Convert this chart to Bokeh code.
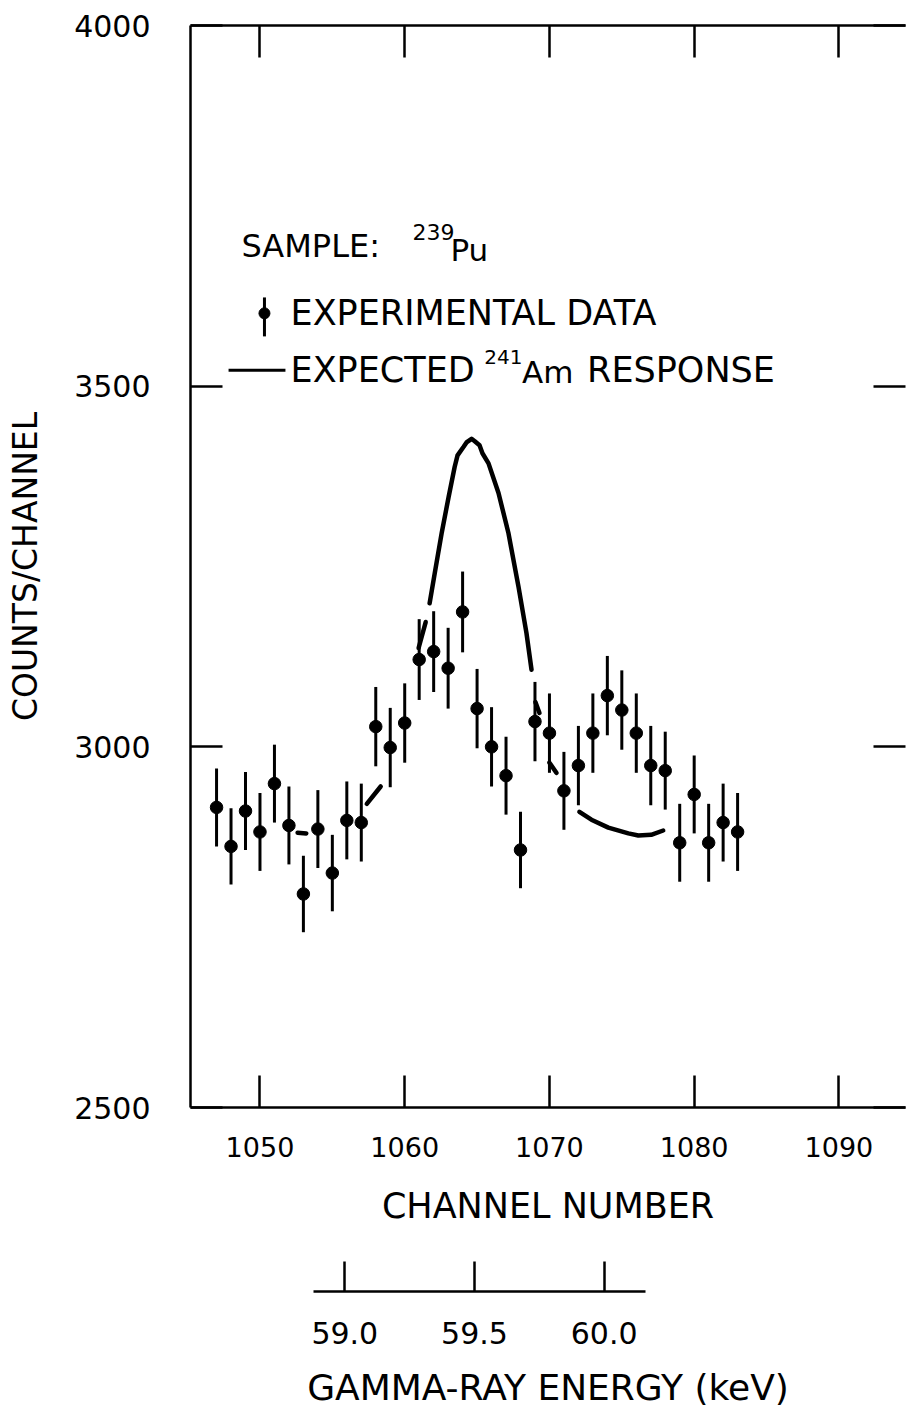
from bokeh.plotting import figure
from bokeh.models import Range1d, LinearAxis, FixedTicker, Label, ColumnDataSource, PrintfTickFormatter
from bokeh.layouts import column
from bokeh.embed import file_html
from bokeh.resources import INLINE

# Measured spectrum of the 239Pu sample
channels = list(range(1047, 1084))
counts = [2916, 2862, 2911, 2882, 2949, 2891, 2796, 2886, 2825, 2898,
          2895, 3028, 2999, 3033, 3121, 3132, 3109, 3187, 3053, 3000,
          2960, 2857, 3035, 3019, 2939, 2974, 3019, 3071, 3051, 3019,
          2974, 2967, 2867, 2934, 2867, 2895, 2882]
count_err = [54, 53, 54, 54, 54, 54, 53, 54, 53, 54,
             54, 55, 55, 55, 56, 56, 56, 56, 55, 55,
             54, 53, 55, 55, 54, 55, 55, 55, 55, 55,
             55, 54, 54, 54, 54, 54, 54]

# Expected 241Am response, drawn in pieces between the data points
response_ch = [
    [1052.6, 1053.2],
    [1057.38, 1058.34],
    [1060.96, 1061.45],
    [1061.72, 1062.07, 1062.55, 1063.03, 1063.45, 1063.65, 1064.07, 1064.27,
     1064.62, 1064.82, 1065.17, 1065.37, 1065.79, 1066.48, 1067.17, 1067.86,
     1068.41, 1068.76],
    [1069.03, 1069.31],
    [1070.0, 1070.48],
    [1072.07, 1072.9, 1074.07, 1075.45, 1076.14, 1077.03, 1077.86],
]
response_counts = [
    [2881, 2880],
    [2921, 2945],
    [3137, 3173],
    [3199, 3240, 3296, 3346, 3388, 3404, 3416, 3422,
     3427, 3424, 3418, 3407, 3393, 3352, 3296, 3222,
     3158, 3107],
    [3062, 3047],
    [2978, 2964],
    [2910, 2899, 2888, 2880, 2877, 2878, 2884],
]

channel_ticks = [1050, 1060, 1070, 1080, 1090]
count_ticks = [2500, 3000, 3500, 4000]
energy_ticks = [59.0, 59.5, 60.0]

# Energy calibration of the channel scale
CAL_CH = 1055.86
CAL_KEV = 59.0
KEV_PER_CH = 0.0558

CH_MIN, CH_MAX = 1045.2, 1094.6
Y_MIN, Y_MAX = 2500, 4000

FONT = "DejaVu Sans"
INK = "black"
FRAME_W = 2.5
TICK_LEN = 32


def style_axis(ax, tick_len=TICK_LEN, label_px=26):
    ax.major_tick_in = tick_len
    ax.major_tick_out = 0
    ax.minor_tick_line_color = None
    ax.axis_line_width = FRAME_W
    ax.axis_line_color = INK
    ax.major_tick_line_width = FRAME_W
    ax.major_tick_line_color = INK
    ax.major_label_text_font = FONT
    ax.major_label_text_font_size = f"{label_px}px"
    ax.major_label_text_color = INK
    ax.axis_label_text_font = FONT
    ax.axis_label_text_font_style = "normal"
    ax.axis_label_text_color = INK


def frame_ticks(ticks):
    # unlabelled side of the frame: ticks only, carried as minor ticks
    ax = LinearAxis(ticker=FixedTicker(ticks=[], minor_ticks=ticks))
    ax.axis_line_width = FRAME_W
    ax.axis_line_color = INK
    ax.minor_tick_in = TICK_LEN
    ax.minor_tick_out = 0
    ax.minor_tick_line_width = FRAME_W
    ax.minor_tick_line_color = INK
    ax.major_tick_line_color = None
    ax.major_label_standoff = 0
    return ax


p = figure(width=907, height=1240,
           x_range=Range1d(CH_MIN, CH_MAX), y_range=Range1d(Y_MIN, Y_MAX),
           output_backend="svg", toolbar_location=None,
           min_border_left=190, min_border_right=2,
           min_border_top=25, min_border_bottom=133,
           outline_line_color=None, background_fill_color="white",
           x_axis_label="CHANNEL NUMBER", y_axis_label="COUNTS/CHANNEL")
p.grid.visible = False

# channel axis (bottom)
xa = p.xaxis[0]
style_axis(xa, label_px=27)
xa.ticker = FixedTicker(ticks=channel_ticks)
xa.major_label_standoff = 29
xa.axis_label_text_font_size = "35px"
xa.axis_label_standoff = 26

# counts axis (left)
ya = p.yaxis[0]
style_axis(ya, label_px=30)
ya.ticker = FixedTicker(ticks=count_ticks)
ya.major_label_standoff = 40
ya.axis_label_text_font_size = "33px"
ya.axis_label_standoff = 26

# top and right sides of the frame
top = frame_ticks(channel_ticks)
p.add_layout(top, "above")
right = frame_ticks(count_ticks)
right.axis_line_color = None
p.add_layout(right, "right")

# data points with error bars
src = ColumnDataSource(dict(
    ch=channels, ct=counts,
    lo=[c - e for c, e in zip(counts, count_err)],
    hi=[c + e for c, e in zip(counts, count_err)],
))
p.segment(x0="ch", y0="lo", x1="ch", y1="hi", source=src, line_color=INK, line_width=3)
p.scatter(x="ch", y="ct", source=src, size=12.5, marker="circle", fill_color=INK, line_color=INK)

# expected response curve
p.multi_line(xs=response_ch, ys=response_counts, line_color=INK, line_width=4.5,
             line_cap="round", line_join="round")

# legend block
KEY_CH = 1050.31
KEY_Y = 3601
KEY_BAR = (3623, 3569)
LINE_CH = (1047.83, 1051.76)
LINE_Y = 3522


def note(x, y, text, size):
    p.add_layout(Label(x=x, y=y, text=text, text_font=FONT, text_font_size=f"{size}px",
                       text_baseline="middle", text_align="left", text_color=INK))


note(1048.72, 3695, "SAMPLE:", 32)
note(1060.54, 3714, "239", 22)
note(1063.16, 3689, "Pu", 31)

p.segment(x0=[KEY_CH], y0=[KEY_BAR[0]], x1=[KEY_CH], y1=[KEY_BAR[1]], line_color=INK, line_width=3)
p.scatter(x=[KEY_CH], y=[KEY_Y], size=11, marker="circle", fill_color=INK, line_color=INK)
note(1052.11, KEY_Y, "EXPERIMENTAL DATA", 35)

p.line(x=list(LINE_CH), y=[LINE_Y, LINE_Y], line_color=INK, line_width=3)
note(1052.11, LINE_Y, "EXPECTED", 35)
note(1065.5, 3540, "241", 20)
note(1068.1, 3519, "Am", 31)
note(1072.6, LINE_Y, "RESPONSE", 35)

# gamma-ray energy scale under the channel axis
e_lo = CAL_KEV + (CH_MIN - CAL_CH) * KEV_PER_CH
e_hi = CAL_KEV + (CH_MAX - CAL_CH) * KEV_PER_CH
pe = figure(width=907, height=170,
            x_range=Range1d(e_lo, e_hi), y_range=Range1d(0, 1),
            output_backend="svg", toolbar_location=None,
            min_border_left=190, min_border_right=2,
            min_border_top=0, min_border_bottom=118,
            outline_line_color=None, background_fill_color="white",
            x_axis_label="GAMMA-RAY ENERGY (keV)")
pe.grid.visible = False
pe.yaxis.visible = False
ea = pe.xaxis[0]
style_axis(ea, tick_len=30, label_px=30)
ea.ticker = FixedTicker(ticks=energy_ticks)
ea.formatter = PrintfTickFormatter(format="%.1f")
ea.bounds = (58.88, 60.16)
ea.major_label_standoff = 30
ea.axis_label_text_font_size = "36px"
ea.axis_label_standoff = 20

layout = column(p, pe, spacing=0)
open("out.html", "w").write(file_html(layout, INLINE))
